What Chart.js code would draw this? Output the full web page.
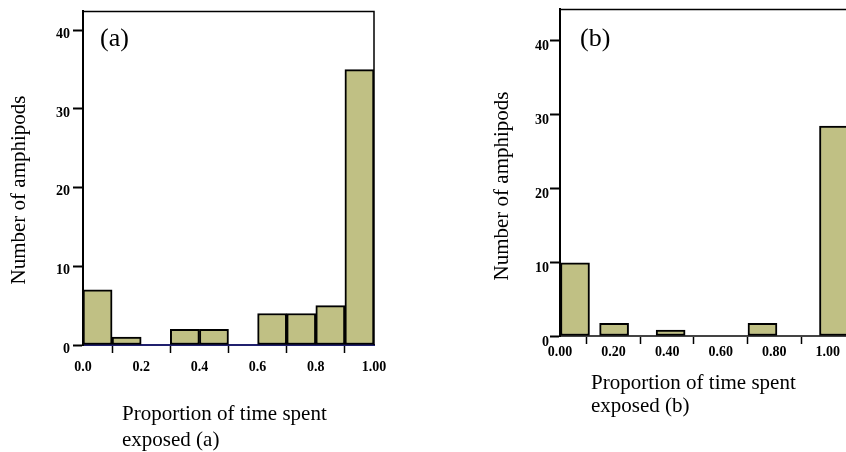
<!DOCTYPE html>
<html>
<head>
<meta charset="utf-8">
<script src="https://cdn.jsdelivr.net/npm/chart.js@4/dist/chart.umd.min.js"></script>
<style>
  html, body { margin: 0; padding: 0; background: #fff; }
  body { width: 846px; height: 452px; position: relative; overflow: hidden; }
  #wrapA { position: absolute; left: 0; top: 0; width: 420px; height: 452px; }
  #wrapB { position: absolute; left: 420px; top: 0; width: 426px; height: 452px; overflow: hidden; }
</style>
</head>
<body>
<div id="wrapA"><canvas id="chartA" width="420" height="452"></canvas></div>
<div id="wrapB"><canvas id="chartB" width="470" height="452"></canvas></div>
<script>
// panel (a): 10 bins of width 0.1
const BINS_A = [0.05, 0.15, 0.25, 0.35, 0.45, 0.55, 0.65, 0.75, 0.85, 0.95];
const COUNTS_A = [7, 1, 0, 2, 2, 0, 4, 4, 5, 35];
const X_LABELS_A = ['0.0', '0.2', '0.4', '0.6', '0.8', '1.00'];

// panel (b): bars as they sit on the axis
const BINS_B = [0.056, 0.202, 0.413, 0.756, 1.023];
const COUNTS_B = [9.9, 1.7, 0.8, 1.7, 28.4];
const X_LABELS_B = ['0.00', '0.20', '0.40', '0.60', '0.80', '1.00'];

const Y_TITLE = 'Number of amphipods';
const X_TITLE_A = ['Proportion of time spent', 'exposed (a)'];
const X_TITLE_B = ['Proportion of time spent', 'exposed (b)'];

const SERIF = '"Liberation Serif", "Times New Roman", serif';
const BAR_FILL = '#c0c084';

Chart.defaults.font.family = SERIF;
Chart.defaults.color = '#000';

// frame (top + right), panel letter, rotated y title and left-aligned two-line x title
const panelText = {
    id: 'panelText',
    afterDraw(chart, args, opts) {
        const { ctx, chartArea: a } = chart;
        ctx.save();
        ctx.strokeStyle = '#000';
        ctx.lineWidth = 1.5;
        ctx.beginPath();
        ctx.moveTo(a.left, a.top);
        ctx.lineTo(a.right, a.top);
        ctx.lineTo(a.right, a.bottom);
        ctx.stroke();
        ctx.fillStyle = '#000';
        ctx.textAlign = 'left';
        ctx.textBaseline = 'middle';
        ctx.font = '26px ' + SERIF;
        ctx.fillText(opts.label, opts.labelX, opts.labelY);
        ctx.font = '21px ' + SERIF;
        opts.title.forEach((t, i) => ctx.fillText(t, opts.titleX, opts.titleY + i * opts.lineGap));
        ctx.translate(opts.yTitleX, opts.yTitleY);
        ctx.rotate(-Math.PI / 2);
        ctx.textAlign = 'center';
        ctx.fillText(Y_TITLE, 0, 0);
        ctx.restore();
    },
};

function makeHist(id, cfg) {
    return new Chart(document.getElementById(id), {
        type: 'bar',
        data: {
            datasets: [{
                data: cfg.bins.map((x, i) => ({ x, y: cfg.counts[i] })),
                backgroundColor: BAR_FILL,
                borderColor: '#000',
                borderWidth: 2,
                borderSkipped: false,
                barPercentage: 1,
                categoryPercentage: 1,
                barThickness: cfg.barThickness,
            }],
        },
        plugins: [panelText],
        options: {
            responsive: false,
            animation: false,
            layout: { padding: cfg.padding },
            plugins: {
                legend: { display: false },
                tooltip: { enabled: false },
                panelText: cfg.text,
            },
            scales: {
                x: {
                    type: 'linear',
                    min: 0,
                    max: cfg.xMax,
                    offset: false,
                    afterFit: s => { s.height = cfg.xHeight; },
                    ticks: {
                        stepSize: 0.2,
                        includeBounds: false,
                        padding: cfg.xTickPad,
                        font: { size: 14, weight: 'bold' },
                        callback: (v, i) => cfg.xLabels[i],
                    },
                    grid: { drawOnChartArea: false, tickLength: 8, tickColor: '#000', tickWidth: 1.5 },
                    border: { color: cfg.axisColor, width: 2 },
                },
                y: {
                    min: 0,
                    max: cfg.yMax,
                    afterFit: s => { s.width = cfg.yWidth; },
                    ticks: {
                        stepSize: 10,
                        includeBounds: false,
                        padding: cfg.yTickPad,
                        labelOffset: cfg.yLabelOffset,
                        font: { size: 14, weight: 'bold' },
                    },
                    grid: { drawOnChartArea: false, tickLength: 10, tickColor: '#000', tickWidth: 2 },
                    border: { color: '#000', width: 2 },
                },
            },
        },
    });
}

makeHist('chartA', {
    bins: BINS_A,
    counts: COUNTS_A,
    xLabels: X_LABELS_A,
    xMax: 1,
    yMax: 42.4,
    padding: { left: 0, top: 6, right: 46, bottom: 0 },
    xHeight: 107,
    yWidth: 83,
    xTickPad: 6,
    yTickPad: 3,
    yLabelOffset: 4,
    axisColor: '#20206e',
    text: {
        label: '(a)', labelX: 100, labelY: 39,
        title: X_TITLE_A, titleX: 122, titleY: 414, lineGap: 26,
        yTitleX: 19, yTitleY: 190,
    },
});

makeHist('chartB', {
    bins: BINS_B,
    counts: COUNTS_B,
    xLabels: X_LABELS_B,
    xMax: 1.15,
    yMax: 44.2,
    barThickness: 29,
    padding: { left: 60, top: 2, right: 22, bottom: 0 },
    xHeight: 116,
    yWidth: 80,
    xTickPad: 0,
    yTickPad: 1,
    yLabelOffset: 6,
    axisColor: '#444',
    text: {
        label: '(b)', labelX: 160, labelY: 39,
        title: X_TITLE_B, titleX: 171, titleY: 383, lineGap: 23,
        yTitleX: 82, yTitleY: 186,
    },
});
</script>
</body>
</html>
